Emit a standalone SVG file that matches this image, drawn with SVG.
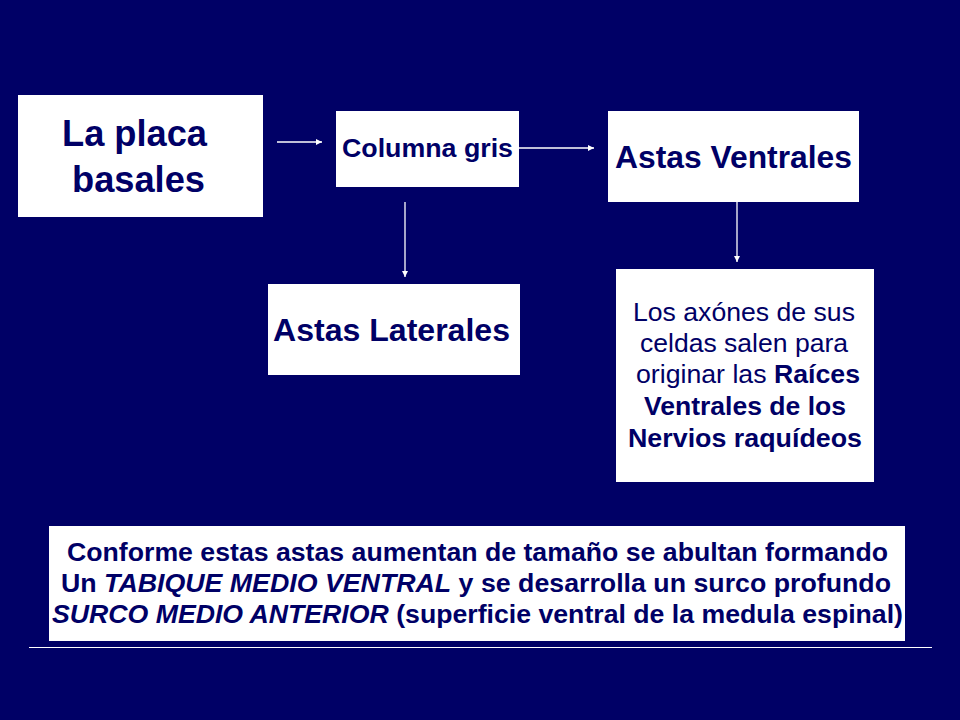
<svg xmlns="http://www.w3.org/2000/svg" width="960" height="720" viewBox="0 0 960 720">
<defs>
<style>
.bg{fill:#000066}
.box{fill:#ffffff}
.t{font-family:"Liberation Sans",Arial,sans-serif;fill:#000066}
.b{font-weight:bold}
.i{font-style:italic}
.conn line{stroke:#ffffff;stroke-width:1.3}
.rule{stroke:#ffffff;stroke-width:1}
</style>
<marker id="ah" viewBox="0 0 10 10" refX="10" refY="5" markerWidth="6" markerHeight="6" markerUnits="userSpaceOnUse" orient="auto">
<path d="M0,0 L10,5 L0,10 z" fill="#ffffff"/>
</marker>
</defs>
<rect class="bg" x="0" y="0" width="960" height="720"/>

<g id="placa">
<rect class="box" x="18" y="95" width="245" height="122"/>
<text class="t b" x="62" y="146" font-size="36" textLength="145" lengthAdjust="spacingAndGlyphs">La placa</text>
<text class="t b" x="72" y="192" font-size="36" textLength="133" lengthAdjust="spacingAndGlyphs">basales</text>
</g>

<g id="columna">
<rect class="box" x="336" y="111" width="183" height="76"/>
<text class="t b" x="342" y="157" font-size="25" textLength="171" lengthAdjust="spacingAndGlyphs">Columna gris</text>
</g>

<g id="ventrales">
<rect class="box" x="608" y="111" width="251" height="91"/>
<text class="t b" x="615" y="168" font-size="32" textLength="237" lengthAdjust="spacingAndGlyphs">Astas Ventrales</text>
</g>

<g id="laterales">
<rect class="box" x="268" y="284" width="252" height="91"/>
<text class="t b" x="273" y="341" font-size="32" textLength="237" lengthAdjust="spacingAndGlyphs">Astas Laterales</text>
</g>

<g id="axones">
<rect class="box" x="616" y="269" width="258" height="213"/>
<text class="t" x="633" y="321" font-size="25" textLength="222" lengthAdjust="spacingAndGlyphs">Los axónes de sus</text>
<text class="t" x="640" y="352" font-size="25" textLength="208" lengthAdjust="spacingAndGlyphs">celdas salen para</text>
<text class="t" x="636" y="383" font-size="25" textLength="224" lengthAdjust="spacingAndGlyphs">originar las <tspan class="b">Raíces</tspan></text>
<text class="t b" x="644" y="415" font-size="25" textLength="202" lengthAdjust="spacingAndGlyphs">Ventrales de los</text>
<text class="t b" x="628" y="447" font-size="25" textLength="234" lengthAdjust="spacingAndGlyphs">Nervios raquídeos</text>
</g>

<g id="nota">
<rect class="box" x="49" y="526" width="856" height="115"/>
<text class="t b" x="67" y="561" font-size="26" textLength="821" lengthAdjust="spacingAndGlyphs">Conforme estas astas aumentan de tamaño se abultan formando</text>
<text class="t b" x="61" y="592" font-size="26" textLength="830" lengthAdjust="spacingAndGlyphs">Un <tspan class="i">TABIQUE MEDIO VENTRAL</tspan> y se desarrolla un surco profundo</text>
<text class="t b" x="52" y="623" font-size="26" textLength="851" lengthAdjust="spacingAndGlyphs"><tspan class="i">SURCO MEDIO ANTERIOR</tspan> (superficie ventral de la medula espinal)</text>
</g>

<g id="connectors" class="conn">
<line x1="277" y1="142" x2="322" y2="142" marker-end="url(#ah)"/>
<line x1="519" y1="148" x2="594" y2="148" marker-end="url(#ah)"/>
<line x1="405" y1="202" x2="405" y2="277" marker-end="url(#ah)"/>
<line x1="737" y1="202" x2="737" y2="262" marker-end="url(#ah)"/>
</g>

<line class="rule" x1="29" y1="647.5" x2="932" y2="647.5"/>
</svg>
